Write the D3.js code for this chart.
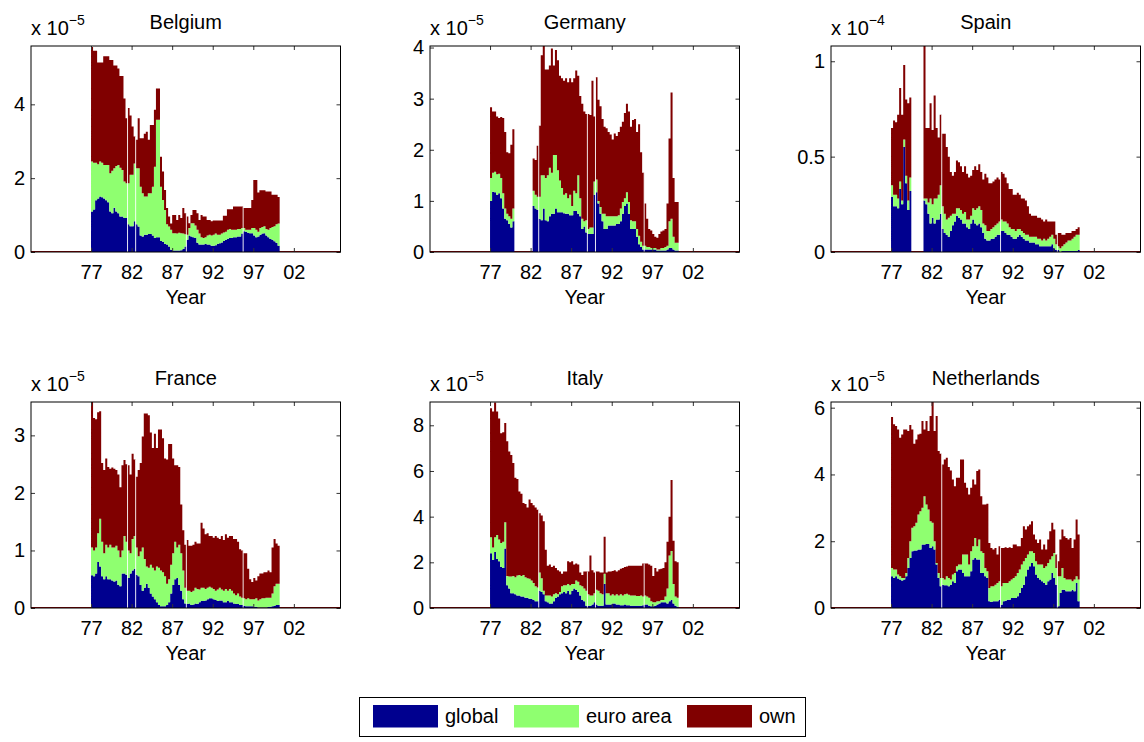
<!DOCTYPE html>
<html>
<head>
<meta charset="utf-8">
<script src="https://cdn.jsdelivr.net/npm/d3@7"></script>
<style>
body{margin:0;background:#fff;}
text{font-family:"Liberation Sans",Arial,Helvetica,sans-serif;fill:#000;}
</style>
</head>
<body>
<svg id="chart" width="1144" height="742"></svg>
<script>
// quarterly data, first bar = 1977Q1, values shown in units of 10^exponent
var startYear = 1977;
var xTickYears = [1977,1982,1987,1992,1997,2002];
var xTickLabels = ["77","82","87","92","97","02"];
var seriesKeys = ["global","euro","own"];
var seriesNames = ["global","euro area","own"];
var seriesColors = ["#00008f","#8fff70","#800000"];

var countries = ["Belgium","Germany","Spain","France","Italy","Netherlands"];
var exponents = [-5,-5,-4,-5,-5,-5];
var yMaxes = [5.58,4.03,1.08,3.58,9.02,6.17];
var yTickValues = [[0,2,4],[0,1,2,3,4],[0,0.5,1],[0,1,2,3],[0,2,4,6,8],[0,2,4,6]];
// quarters where the plot shows a thin white seam
var seamQuarters = [[18,22,47,75],[24,48,52,76],[25,54,82],[18,22,47,75],[24,48,52,76],[25,54,82]];

var belGlobal = [1.1,1.15,1.4,1.45,1.5,1.48,1.45,1.4,1.35,1.1,
  1.05,1.2,1.1,1.05,0.96,0.96,0.92,0.92,0.75,0.7,
  0.7,0.83,0.75,0.69,0.45,0.42,0.47,0.47,0.49,0.49,
  0.45,0.38,0.4,0.4,0.3,0.28,0.22,0.2,0.15,0.06,
  0.04,0.04,0.04,0.04,0.05,0.08,0.15,0.33,0.45,0.42,
  0.4,0.38,0.25,0.2,0.2,0.2,0.22,0.2,0.2,0.17,
  0.17,0.18,0.22,0.24,0.26,0.3,0.33,0.36,0.38,0.38,
  0.4,0.4,0.42,0.42,0.5,0.56,0.55,0.52,0.51,0.51,
  0.45,0.4,0.42,0.47,0.5,0.51,0.45,0.4,0.35,0.33,
  0.29,0.25,0.17];
var belEuro = [1.35,1.27,1.02,0.93,0.95,0.94,0.91,0.96,1.01,1.03,
  1.15,1.07,1.23,1.31,1.32,1.26,0.99,0.94,1.11,1.39,
  1.39,1.57,1.52,1.58,1.32,1.17,1.03,1.03,1.1,1.1,
  1.32,1.93,3.18,3.18,1.47,1.13,0.92,0.55,0.54,0.54,
  0.47,0.47,0.46,0.48,0.46,0.42,0.33,0.14,0.2,0.36,
  0.38,0.34,0.35,0.3,0.2,0.18,0.18,0.25,0.27,0.28,
  0.3,0.32,0.25,0.23,0.24,0.23,0.22,0.24,0.24,0.22,
  0.2,0.2,0.2,0.2,0.15,0.09,0.05,0.08,0.09,0.14,
  0.2,0.2,0.13,0.18,0.18,0.19,0.17,0.2,0.3,0.35,
  0.41,0.5,0.6];
var belOwn = [3.1,3.03,3.03,2.75,2.68,2.71,2.94,2.94,2.94,3.07,
  3.0,2.78,2.72,2.61,2.49,2.55,2.25,1.76,2.04,1.61,
  1.31,0.73,0.77,1.35,1.31,1.49,1.7,1.76,1.45,1.85,
  1.67,1.54,0.85,0.85,0.81,0.77,0.54,0.44,0.27,0.17,
  0.49,0.49,0.37,0.48,0.41,0.69,0.57,0.49,0.13,0.22,
  0.36,0.42,0.45,0.37,0.6,0.58,0.56,0.42,0.4,0.38,
  0.38,0.35,0.38,0.38,0.35,0.45,0.43,0.56,0.54,0.56,
  0.63,0.63,0.61,0.61,0.58,0.54,0.59,0.59,0.59,0.76,
  1.3,1.35,1.06,1.02,0.99,0.97,1.02,1.04,0.99,0.87,
  0.85,0.8,0.72];

var deGlobal = [1.0,1.18,1.17,1.12,1.15,1.05,0.85,0.65,0.62,0.55,0.48,0.6,
  null,null,null,null,null,null,null,null,null,
  0.9,0.85,0.82,0.65,0.62,0.85,0.62,0.6,0.7,0.75,
  0.75,0.85,0.78,0.78,0.78,0.76,0.75,0.75,0.72,0.72,
  0.8,0.8,0.75,0.7,0.45,0.5,0.38,0.35,0.35,0.35,
  1.12,1.17,0.95,0.75,0.6,0.45,0.45,0.52,0.52,0.52,
  0.52,0.55,0.55,0.6,0.75,0.9,0.95,0.75,0.45,0.45,
  0.45,0.3,0.15,0.1,0.05,0.05,0.05,0.05,0.05,0.05,
  0.05,0.03,0.03,0.03,0.03,0.03,0.05,0.08,0.08,0.05,
  0.03,0.03];
var deEuro = [0.45,0.37,0.4,0.4,0.38,0.4,0.3,0.2,0.13,0.15,0.17,0.25,
  null,null,null,null,null,null,null,null,null,
  0.3,0.27,0.26,0.43,0.88,0.65,0.83,0.9,0.95,0.8,
  1.15,1.05,0.82,0.62,0.47,0.36,0.4,0.3,0.4,0.18,
  0.4,0.35,0.75,0.35,0.2,0.1,0.24,0.1,0.13,0.13,
  0.26,0.25,0.05,0.13,0.15,0.3,0.25,0.18,0.18,0.18,
  0.18,0.15,0.17,0.25,0.23,0.15,0.22,0.23,0.17,0.15,
  0.15,0.15,0.17,0.1,0.07,0.07,0.05,0.05,0.03,0.03,
  0.03,0.02,0.02,0.05,0.05,0.07,0.07,0.52,0.57,0.25,
  0.15,0.15];
var deOwn = [1.38,1.2,1.18,1.13,1.09,1.19,1.47,1.5,1.2,1.23,1.45,1.55,
  null,null,null,null,null,null,null,null,null,
  0.63,0.68,1.0,1.39,2.35,2.53,2.12,2.07,2.0,2.43,
  1.75,2.05,2.15,2.05,2.15,2.23,2.25,2.27,2.28,2.42,
  2.2,2.4,1.95,2.0,2.25,2.15,2.08,2.25,2.2,2.87,
  1.27,2.0,1.98,1.97,1.85,1.7,1.72,1.65,1.6,1.5,
  1.62,1.57,1.63,1.6,1.57,1.67,1.73,1.77,1.83,1.98,
  2.0,1.9,2.18,1.75,1.43,0.83,0.55,0.35,0.34,0.27,
  0.22,0.23,0.3,0.32,0.34,0.35,0.83,1.62,2.47,1.15,
  0.8,0.8];

var esGlobal = [0.29,0.24,0.24,0.23,0.33,0.25,0.55,0.36,0.22,0.32,
  null,null,null,null,null,null,
  0.27,0.25,0.2,0.15,0.18,0.15,0.17,0.17,0.2,0.12,
  0.1,0.09,0.08,0.11,0.14,0.16,0.19,0.18,0.17,0.15,
  0.15,0.13,0.12,0.15,0.17,0.15,0.14,0.15,0.13,0.1,
  0.07,0.06,0.06,0.07,0.07,0.08,0.09,0.09,0.11,0.11,
  0.1,0.09,0.09,0.08,0.07,0.07,0.08,0.09,0.08,0.07,
  0.06,0.06,0.05,0.05,0.05,0.04,0.04,0.03,0.03,0.03,
  0.03,0.03,0.03,0.04,0.02,0.01,0.01,0,0.005,0.005,
  0.005,0.005,0.005,0.005,0.005,0.005,0.01];
var esEuro = [0.06,0.06,0.06,0.05,0.04,0.02,0.04,0.04,0.05,0.07,
  null,null,null,null,null,null,
  0.01,0.03,0.06,0.13,0.07,0.13,0.11,0.13,0.15,0.12,
  0.1,0.08,0.1,0.08,0.06,0.04,0.04,0.05,0.05,0.05,
  0.06,0.04,0.05,0.04,0.06,0.07,0.09,0.09,0.09,0.05,
  0.07,0.05,0.05,0.05,0.06,0.06,0.06,0.07,0.06,0.05,
  0.06,0.06,0.04,0.04,0.05,0.04,0.04,0.03,0.03,0.03,
  0.03,0.03,0.03,0.03,0.03,0.04,0.03,0.04,0.03,0.04,
  0.03,0.04,0.05,0.05,0.05,0.03,0.02,0.02,0.025,0.035,
  0.045,0.055,0.055,0.065,0.075,0.085,0.08];
var esOwn = [0.3,0.39,0.38,0.44,0.49,0.45,0.39,0.4,0.51,0.42,
  null,null,null,null,null,null,
  0.8,0.37,0.39,0.5,0.39,0.54,0.37,0.3,0.37,0.38,
  0.42,0.38,0.32,0.23,0.2,0.22,0.25,0.24,0.23,0.22,
  0.24,0.24,0.22,0.21,0.2,0.23,0.2,0.22,0.2,0.23,
  0.27,0.28,0.25,0.24,0.24,0.24,0.24,0.22,0.25,0.25,
  0.23,0.21,0.2,0.21,0.18,0.19,0.19,0.18,0.17,0.18,
  0.18,0.15,0.12,0.11,0.11,0.11,0.11,0.11,0.11,0.09,
  0.11,0.09,0.08,0.07,0.09,0.05,0.07,0.08,0.06,0.05,
  0.05,0.04,0.04,0.04,0.03,0.03,0.04];

var frGlobal = [0.57,0.55,0.6,0.8,0.72,0.55,0.5,0.55,0.5,0.5,
  0.48,0.46,0.48,0.4,0.38,0.6,0.6,0.58,0.52,0.6,
  0.65,0.68,0.58,0.55,0.4,0.3,0.35,0.42,0.35,0.25,
  0.2,0.15,0.1,0.05,0.03,0.03,0.03,0.05,0.1,0.25,
  0.4,0.5,0.52,0.4,0.3,0.15,0.08,0.07,0.08,0.05,
  0.06,0.08,0.07,0.1,0.12,0.12,0.13,0.15,0.17,0.17,
  0.15,0.14,0.12,0.13,0.13,0.1,0.1,0.12,0.1,0.1,
  0.08,0.07,0.07,0.05,0.05,0.04,0.03,0.03,0.03,0.03,
  0.02,0.02,0.01,0.01,0.01,0.01,0.01,0.02,0.02,0.03,
  0.04,0.05,0.05];
var frEuro = [0.48,0.45,0.45,0.5,0.83,0.6,0.45,0.55,0.55,0.6,
  0.57,0.59,0.6,0.6,0.5,0.4,0.65,0.57,0.48,0.35,
  0.55,0.57,0.47,0.35,0.58,0.75,0.5,0.3,0.35,0.5,
  0.5,0.5,0.62,0.65,0.62,0.59,0.52,0.37,0.4,0.5,
  0.55,0.65,0.53,0.7,0.65,0.5,0.27,0.23,0.22,0.23,
  0.24,0.27,0.26,0.22,0.23,0.23,0.2,0.2,0.2,0.18,
  0.18,0.16,0.2,0.22,0.19,0.2,0.23,0.18,0.23,0.2,
  0.17,0.15,0.18,0.15,0.13,0.13,0.12,0.14,0.12,0.12,
  0.13,0.15,0.12,0.14,0.16,0.16,0.17,0.16,0.16,0.22,
  0.34,0.37,0.37];
var frOwn = [2.53,2.3,2.23,2.1,1.87,1.37,1.45,1.5,1.4,1.32,
  1.39,1.37,1.32,1.32,1.22,1.48,1.32,1.35,1.48,1.37,
  1.48,1.33,1.23,1.5,1.54,1.93,2.53,2.66,2.65,2.3,
  2.08,2.38,2.06,2.4,2.45,2.33,2.05,2.16,2.35,2.1,
  1.65,1.33,1.43,1.35,0.85,0.7,0.75,0.88,0.78,0.8,
  0.8,0.8,0.79,0.8,1.13,1.03,0.95,0.95,0.88,0.9,
  0.89,0.95,0.9,0.85,0.93,0.88,0.95,0.92,0.92,0.95,
  0.95,0.98,0.9,0.82,0.82,0.78,0.8,0.51,0.35,0.3,
  0.37,0.31,0.42,0.45,0.43,0.45,0.44,0.47,0.44,0.8,
  0.82,0.7,0.66];

var itGlobal = [2.4,2.1,2.45,2.15,2.05,1.8,1.75,2.6,1.0,0.85,
  0.65,0.65,0.6,0.55,0.55,0.5,0.5,0.45,0.45,0.4,
  0.4,0.35,0.3,0.3,0.75,0.7,0.6,0.3,0.25,0.2,
  0.2,0.3,0.45,0.5,0.6,0.65,0.7,0.65,0.75,0.6,
  0.75,0.85,0.8,0.7,0.55,0.35,0.3,0.1,0.1,0.1,
  0.15,0.25,0.15,0.1,0.1,0.1,1.05,0.15,0.15,0.15,
  0.2,0.2,0.15,0.15,0.12,0.12,0.15,0.12,0.12,0.1,
  0.1,0.1,0.1,0.1,0.1,0.12,0.15,0.15,0.1,0.08,
  0.08,0.1,0.15,0.2,0.25,0.25,0.25,0.2,0.3,0.35,
  0.2,0.1,0.05];
var itEuro = [0.7,0.55,0.65,1.05,0.95,1.05,1.15,1.15,0.4,0.53,
  0.73,0.75,0.75,0.87,0.9,0.9,0.95,0.9,0.85,0.88,
  0.8,0.75,0.65,0.6,0.8,0.6,0.15,0.25,0.3,0.35,
  0.3,0.3,0.2,0.1,0.1,0.3,0.3,0.35,0.3,0.4,
  0.3,0.2,0.4,0.45,0.45,0.6,0.55,0.65,0.5,0.45,
  0.4,0.4,0.65,0.65,0.55,0.5,0.45,0.5,0.5,0.4,
  0.4,0.35,0.45,0.4,0.48,0.43,0.45,0.5,0.46,0.45,
  0.45,0.45,0.42,0.42,0.45,0.38,0.4,0.35,0.35,0.22,
  0.17,0.15,0.15,0.1,0.1,0.1,0.25,0.65,2.0,2.15,
  0.85,0.4,0.4];
var itOwn = [5.65,5.95,5.9,5.4,5.3,4.8,4.8,4.35,5.9,5.47,
  5.32,4.95,4.35,4.23,3.65,3.6,3.15,3.2,3.1,3.47,
  3.4,3.4,3.45,3.4,2.6,2.75,3.05,2.0,1.3,1.35,
  1.3,1.25,1.1,1.05,0.9,0.55,0.6,0.6,1.0,1.0,
  1.0,0.85,0.75,0.75,0.55,0.5,0.75,0.85,1.0,1.75,
  1.1,0.9,0.8,0.85,0.9,0.95,1.62,0.9,0.95,1.05,
  1.02,1.1,1.0,1.1,1.12,1.2,1.2,1.2,1.27,1.3,
  1.3,1.3,1.33,1.33,1.3,1.45,1.4,1.45,1.45,1.55,
  1.15,1.5,1.3,1.4,1.37,1.4,1.5,2.05,1.7,3.1,
  1.9,1.55,1.55];

var nlGlobal = [0.95,0.9,0.95,0.88,0.85,0.82,0.85,0.95,1.2,1.5,
  1.7,1.72,1.72,1.75,1.75,1.9,1.9,1.92,1.92,1.8,
  1.85,1.75,1.3,0.9,0.65,0.7,0.68,0.68,0.65,0.7,
  0.8,0.75,1.1,1.15,1.15,1.05,0.95,0.95,0.95,1.1,
  1.45,1.5,1.45,1.45,1.05,1.05,0.95,0.9,0.2,0.18,
  0.2,0.2,0.2,0.25,0.1,0.2,0.22,0.25,0.25,0.3,
  0.3,0.3,0.35,0.45,0.6,0.7,0.95,1.15,1.25,1.35,
  1.25,1.0,0.9,0.85,0.8,0.75,0.7,0.8,0.85,1.05,
  0.9,0.7,0.05,0.45,0.55,0.55,0.5,0.5,0.5,0.55,
  0.5,0.75,0.2];
var nlEuro = [0.25,0.25,0.2,0.12,0.1,0.08,0.05,0.1,0.3,0.5,
  0.7,0.73,0.83,1.05,1.15,1.1,1.45,1.18,1.03,0.8,
  0.7,0.25,0.05,0.15,0.25,0.2,0.17,0.27,0.25,0.15,
  0.2,0.3,0.15,0.15,0.15,0.55,0.65,0.65,0.35,0.6,
  0.4,0.6,0.4,0.6,0.65,0.6,0.25,0.2,0.4,0.47,
  0.45,0.5,0.55,0.55,0.55,0.55,0.53,0.5,0.55,0.55,
  0.6,0.65,0.7,0.7,0.7,0.7,0.55,0.45,0.45,0.35,
  0.4,0.4,0.4,0.45,0.5,0.45,0.55,0.55,0.6,0.5,
  0.75,0.5,0.9,0.5,0.65,0.35,0.35,0.35,0.35,0.25,
  0.35,0.2,0.65];
var nlOwn = [4.52,4.35,4.3,4.35,4.15,4.3,4.45,4.3,3.8,3.48,
  2.95,2.47,2.5,2.4,2.32,2.6,2.0,2.5,2.35,3.15,
  3.62,3.3,4.4,3.65,3.72,3.4,3.6,3.55,3.32,3.27,
  2.85,2.6,2.65,2.6,3.15,2.85,2.15,2.0,2.1,1.9,
  2.0,1.6,2.25,2.1,1.65,1.45,1.9,2.02,1.35,1.15,
  1.1,1.1,0.85,1.05,1.15,1.05,1.07,1.05,1.02,0.95,
  1.0,0.95,0.8,0.7,0.8,1.05,0.85,0.85,0.8,0.9,
  0.55,0.65,0.65,0.75,0.45,0.7,0.5,0.7,0.85,1.0,
  0.7,0.4,0.45,1.1,1.15,1.25,1.25,1.2,1.25,1.0,
  1.2,1.7,1.35];

var panelSeries = [
  [belGlobal,belEuro,belOwn],
  [deGlobal,deEuro,deOwn],
  [esGlobal,esEuro,esOwn],
  [frGlobal,frEuro,frOwn],
  [itGlobal,itEuro,itOwn],
  [nlGlobal,nlEuro,nlOwn]
];

var svg = d3.select("#chart");
var colLeft = [31,430,831];
var rowTop = [46,402];
var pw = 309.5, ph = 206;
var xDomain = [1969.6,2007.75];

countries.forEach(function(name,k){
  var left = colLeft[k%3], top = rowTop[Math.floor(k/3)];
  var g = svg.append("g").attr("transform","translate("+left+","+top+")");
  var x = d3.scaleLinear().domain(xDomain).range([0,pw]);
  var y = d3.scaleLinear().domain([0,yMaxes[k]]).range([ph,0]);
  var s = panelSeries[k];

  var rows = s[0].map(function(v,i){
    return {i:i, ok:v!=null, global:v||0, euro:s[1][i]||0, own:s[2][i]||0};
  });
  var stacked = d3.stack().keys(seriesKeys)(rows);

  g.append("clipPath").attr("id","clip"+k)
    .append("rect").attr("width",pw).attr("height",ph);

  var area = d3.area()
    .defined(function(d){ return d.ok; })
    .x(function(d){ return x(d.t); })
    .y0(function(d){ return y(d.y0); })
    .y1(function(d){ return y(d.y1); });

  var plot = g.append("g").attr("clip-path","url(#clip"+k+")");

  // red baseline like the bar plot's base line
  plot.append("line")
    .attr("x1",0).attr("x2",pw)
    .attr("y1",y(0)).attr("y2",y(0))
    .attr("stroke","#8b0000").attr("stroke-width",2);

  stacked.forEach(function(layer,j){
    var pts = [];
    layer.forEach(function(d,i){
      pts.push({t:startYear+i/4, y0:d[0], y1:d[1], ok:rows[i].ok});
      pts.push({t:startYear+(i+1)/4, y0:d[0], y1:d[1], ok:rows[i].ok});
    });
    plot.append("path").attr("d",area(pts)).attr("fill",seriesColors[j]);
  });

  // thin white seams between some bars
  seamQuarters[k].forEach(function(q){
    var hi = Math.max(stacked[2][q-1][1], stacked[2][q][1]);
    plot.append("line")
      .attr("x1",x(startYear+q/4)).attr("x2",x(startYear+q/4))
      .attr("y1",y(0)).attr("y2",y(hi))
      .attr("stroke","#fff").attr("stroke-width",0.9);
  });

  // axes
  var fmt = function(d){ return d3.format("")(d); };
  var yl = g.append("g").call(d3.axisLeft(y).tickValues(yTickValues[k]).tickSize(-4).tickPadding(6).tickFormat(fmt));
  var yr = g.append("g").attr("transform","translate("+pw+",0)")
    .call(d3.axisRight(y).tickValues(yTickValues[k]).tickSize(-4).tickFormat(""));
  var xb = g.append("g").attr("transform","translate(0,"+ph+")")
    .call(d3.axisBottom(x).tickValues(xTickYears).tickSize(-4).tickPadding(13)
      .tickFormat(function(d,i){ return xTickLabels[i]; }));
  var xt = g.append("g")
    .call(d3.axisTop(x).tickValues(xTickYears).tickSize(-4).tickFormat(""));
  [yl,yr,xb,xt].forEach(function(a){
    a.select(".domain").remove();
    a.selectAll(".tick line").attr("stroke","#333");
    a.selectAll("text").attr("font-size",20).attr("font-family",null).style("fill","#000");
  });

  g.append("rect").attr("width",pw).attr("height",ph)
    .attr("fill","none").attr("stroke","#000").attr("stroke-width",1);

  g.append("text").attr("x",pw/2).attr("y",-17)
    .attr("text-anchor","middle").attr("font-size",20).text(name);

  var ex = g.append("text").attr("x",0).attr("y",-11).attr("font-size",20);
  ex.append("tspan").text("x 10");
  ex.append("tspan").attr("dy",-10).attr("font-size",14).text("\u2212" + Math.abs(exponents[k]));

  g.append("text").attr("x",pw/2).attr("y",ph+52)
    .attr("text-anchor","middle").attr("font-size",20).text("Year");
});

// legend
var lg = svg.append("g");
lg.append("rect").attr("x",359.5).attr("y",697.5).attr("width",446).attr("height",39)
  .attr("fill","#fff").attr("stroke","#000").attr("stroke-width",1);
var swatchX = [373,514,687];
seriesNames.forEach(function(n,j){
  lg.append("rect").attr("x",swatchX[j]).attr("y",705).attr("width",65).attr("height",22.5)
    .attr("fill",seriesColors[j]);
  lg.append("text").attr("x",swatchX[j]+72).attr("y",723).attr("font-size",20).text(n);
});
</script>
</body>
</html>
